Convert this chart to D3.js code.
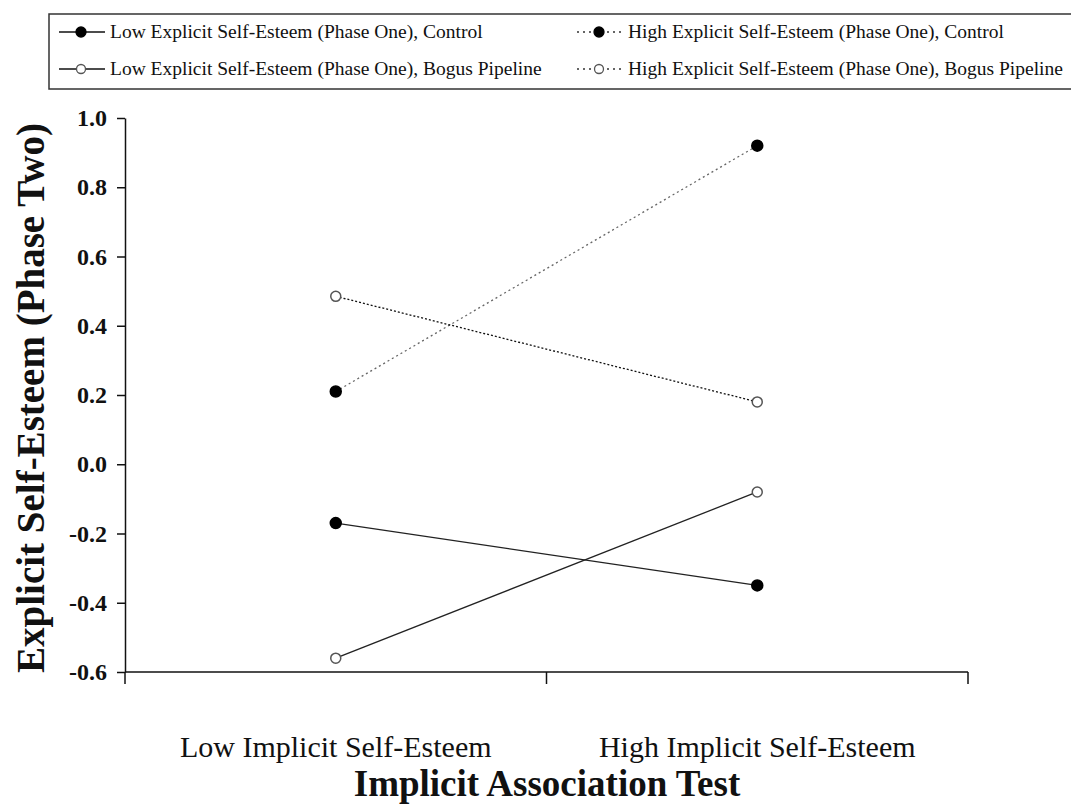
<!DOCTYPE html>
<html>
<head>
<meta charset="utf-8">
<script src="https://cdn.jsdelivr.net/npm/d3@7"></script>
<style>
body{margin:0;background:#fff;}
text{font-family:"Liberation Serif","Times New Roman",serif;}
</style>
</head>
<body>
<div id="graph"></div>
<script>
var width=1071;
var height=807;

var categories=["Low Implicit Self-Esteem","High Implicit Self-Esteem"];
var lowControl=[-0.17,-0.35];
var lowBogus=[-0.56,-0.08];
var highControl=[0.21,0.92];
var highBogus=[0.485,0.18];
var seriesNames=[
	"Low Explicit Self-Esteem (Phase One), Control",
	"Low Explicit Self-Esteem (Phase One), Bogus Pipeline",
	"High Explicit Self-Esteem (Phase One), Control",
	"High Explicit Self-Esteem (Phase One), Bogus Pipeline"
];
var yTicks=[-0.6,-0.4,-0.2,0.0,0.2,0.4,0.6,0.8,1.0];

// line styles per series
var series=[
	{name:seriesNames[0],values:lowControl,filled:true,dash:null,color:"#222"},
	{name:seriesNames[1],values:lowBogus,filled:false,dash:null,color:"#222"},
	{name:seriesNames[2],values:highControl,filled:true,dash:"2,3",color:"#666"},
	{name:seriesNames[3],values:highBogus,filled:false,dash:"2,2",color:"#111"}
];

var svg=d3.select('#graph').append('svg').attr('width',width).attr('height',height);

// plot box (don't use "top" - it's window.top)
var pLeft=125,pRight=968,pTop=118,pBottom=672;

var x=d3.scaleBand().domain(categories).range([pLeft,pRight]);
var y=d3.scaleLinear().domain([-0.6,1.0]).range([pBottom,pTop]);

// y axis
var yAxis=svg.append('g').attr('transform','translate('+pLeft+',0)')
	.call(d3.axisLeft(y).tickValues(yTicks).tickFormat(d3.format('.1f')).tickSizeInner(8).tickSizeOuter(0).tickPadding(10));
yAxis.select('.domain').attr('stroke','#111').attr('stroke-width',1.5);
yAxis.selectAll('.tick line').attr('stroke','#111').attr('stroke-width',1.5);
yAxis.selectAll('.tick text').attr('font-family','Liberation Serif').attr('font-weight','bold')
	.attr('font-size',24).attr('fill','#111').text(function(d){return d3.format('.1f')(d).replace('−','-');});

// x axis: ticks at band edges, labels at band centres
var xg=svg.append('g');
xg.append('line').attr('x1',pLeft).attr('x2',pRight).attr('y1',pBottom).attr('y2',pBottom)
	.attr('stroke','#111').attr('stroke-width',1.5);
var edges=[pLeft].concat(categories.map(function(c){return x(c)+x.bandwidth();}));
xg.selectAll('.edge').data(edges).enter().append('line')
	.attr('x1',function(d){return d;}).attr('x2',function(d){return d;})
	.attr('y1',pBottom).attr('y2',pBottom+12).attr('stroke','#111').attr('stroke-width',1.5);
xg.selectAll('.lab').data(categories).enter().append('text')
	.attr('x',function(d){return x(d)+x.bandwidth()/2;}).attr('y',757)
	.attr('text-anchor','middle').attr('font-size',30).attr('fill','#111').text(function(d){return d;});

// axis titles
svg.append('text').attr('x',547).attr('y',796).attr('text-anchor','middle')
	.attr('font-size',37).attr('font-weight','bold').attr('fill','#111').text('Implicit Association Test');
svg.append('text').attr('transform','translate(44,398) rotate(-90)').attr('text-anchor','middle')
	.attr('font-size',39).attr('font-weight','bold').attr('fill','#111').text('Explicit Self-Esteem (Phase Two)');

// lines
var line=d3.line().x(function(d,i){return x(categories[i])+x.bandwidth()/2;}).y(function(d){return y(d);});
series.forEach(function(s){
	svg.append('path').datum(s.values).attr('d',line).attr('fill','none')
		.attr('stroke',s.color).attr('stroke-width',1.3).attr('stroke-dasharray',s.dash);
	svg.selectAll(null).data(s.values).enter().append('circle')
		.attr('cx',function(d,i){return x(categories[i])+x.bandwidth()/2;})
		.attr('cy',function(d){return y(d);})
		.attr('r',s.filled?5.5:5)
		.attr('fill',s.filled?'#000':'#fff')
		.attr('stroke',s.filled?'#000':'#555').attr('stroke-width',1.5);
});

// legend
var lg=svg.append('g');
lg.append('rect').attr('x',49).attr('y',14).attr('width',1040).attr('height',75)
	.attr('fill','none').attr('stroke','#333').attr('stroke-width',1.5);
var legPos=[{x:59,y:32},{x:59,y:69},{x:577,y:32},{x:577,y:69}];
series.forEach(function(s,i){
	var p=legPos[i];
	lg.append('line').attr('x1',p.x).attr('x2',p.x+46).attr('y1',p.y).attr('y2',p.y)
		.attr('stroke',s.dash?'#333':'#111').attr('stroke-width',1.3).attr('stroke-dasharray',s.dash?'2,4':null);
	lg.append('circle').attr('cx',p.x+22).attr('cy',p.y).attr('r',s.filled?5:4.5)
		.attr('fill',s.filled?'#000':'#fff').attr('stroke',s.filled?'#000':'#555').attr('stroke-width',1.3);
	lg.append('text').attr('x',p.x+51).attr('y',p.y+6).attr('font-size',19.5).attr('fill','#111').text(s.name);
});
</script>
</body>
</html>
